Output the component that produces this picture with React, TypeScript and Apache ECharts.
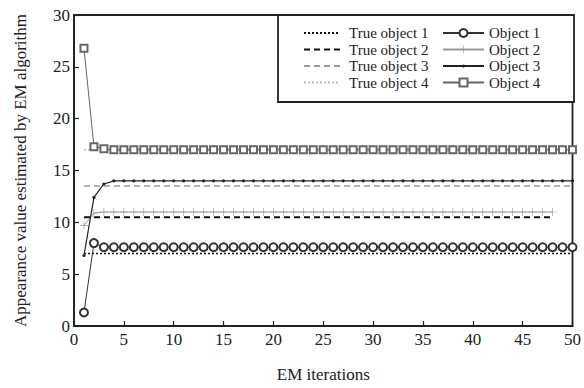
import React, { useEffect, useRef } from "react";
import * as echarts from "echarts";

// EM iteration index for each estimate
const iterations = [
  1, 2, 3, 4, 5, 6, 7, 8, 9, 10,
  11, 12, 13, 14, 15, 16, 17, 18, 19, 20,
  21, 22, 23, 24, 25, 26, 27, 28, 29, 30,
  31, 32, 33, 34, 35, 36, 37, 38, 39, 40,
  41, 42, 43, 44, 45, 46, 47, 48, 49, 50,
];

const object1 = [
  1.3, 8.0, 7.6, 7.6, 7.6, 7.6, 7.6, 7.6, 7.6, 7.6,
  7.6, 7.6, 7.6, 7.6, 7.6, 7.6, 7.6, 7.6, 7.6, 7.6,
  7.6, 7.6, 7.6, 7.6, 7.6, 7.6, 7.6, 7.6, 7.6, 7.6,
  7.6, 7.6, 7.6, 7.6, 7.6, 7.6, 7.6, 7.6, 7.6, 7.6,
  7.6, 7.6, 7.6, 7.6, 7.6, 7.6, 7.6, 7.6, 7.6, 7.6,
];
const object2 = [
  9.7, 10.9, 11.0, 11.0, 11.0, 11.0, 11.0, 11.0, 11.0, 11.0,
  11.0, 11.0, 11.0, 11.0, 11.0, 11.0, 11.0, 11.0, 11.0, 11.0,
  11.0, 11.0, 11.0, 11.0, 11.0, 11.0, 11.0, 11.0, 11.0, 11.0,
  11.0, 11.0, 11.0, 11.0, 11.0, 11.0, 11.0, 11.0, 11.0, 11.0,
  11.0, 11.0, 11.0, 11.0, 11.0, 11.0, 11.0, 11.0,
];
const object3 = [
  6.8, 12.4, 13.7, 14.0, 14.0, 14.0, 14.0, 14.0, 14.0, 14.0,
  14.0, 14.0, 14.0, 14.0, 14.0, 14.0, 14.0, 14.0, 14.0, 14.0,
  14.0, 14.0, 14.0, 14.0, 14.0, 14.0, 14.0, 14.0, 14.0, 14.0,
  14.0, 14.0, 14.0, 14.0, 14.0, 14.0, 14.0, 14.0, 14.0, 14.0,
  14.0, 14.0, 14.0, 14.0, 14.0, 14.0, 14.0, 14.0, 14.0, 14.0,
];
const object4 = [
  26.8, 17.3, 17.1, 17.0, 17.0, 17.0, 17.0, 17.0, 17.0, 17.0,
  17.0, 17.0, 17.0, 17.0, 17.0, 17.0, 17.0, 17.0, 17.0, 17.0,
  17.0, 17.0, 17.0, 17.0, 17.0, 17.0, 17.0, 17.0, 17.0, 17.0,
  17.0, 17.0, 17.0, 17.0, 17.0, 17.0, 17.0, 17.0, 17.0, 17.0,
  17.0, 17.0, 17.0, 17.0, 17.0, 17.0, 17.0, 17.0, 17.0, 17.0,
];

// True values: [value, first iteration, last iteration]
const trueValues = [7.0, 10.5, 13.5, 17.0];
const trueStart = [1, 1, 1, 1];
const trueEnd = [50, 48, 50, 50];

const trueNames = ["True object 1", "True object 2", "True object 3", "True object 4"];
const objectNames = ["Object 1", "Object 2", "Object 3", "Object 4"];

const yTicks = { min: 0, max: 30, interval: 5 };
const xTicks = { min: 0, max: 50, interval: 5 };

const FONT = "Liberation Serif";
const INK = "#222";

const NOSYMBOL = "path://M0,0L0,0M10,10L10,10";
const PLUS = "path://M0,0L0,0M10,10L10,10M4.6,0h0.8v10h-0.8zM0,4.6h10v0.8h-10z";
const DOT = "path://M0,0L0,0M10,10L10,10M3,5a2,2 0 1,0 4,0a2,2 0 1,0 -4,0z";

export default function App() {
  const ref = useRef<HTMLDivElement>(null);

  useEffect(() => {
    if (!ref.current) return;
    const chart = echarts.init(ref.current, undefined, { renderer: "svg" });

    const pairs = (vals: number[]) => vals.map((v, i) => [iterations[i], v]);

    const trueStyles = [
      { color: "#111", type: [2, 2], width: 1.6 },
      { color: "#111", type: [6, 4], width: 2 },
      { color: "#999", type: [6, 4], width: 1.6 },
      { color: "#bbb", type: [2, 2], width: 1.4 },
    ];

    const trueSeries = trueValues.map((v, i) => ({
      name: trueNames[i],
      type: "line",
      symbol: NOSYMBOL,
      showSymbol: false,
      data: [
        [trueStart[i], v],
        [trueEnd[i], v],
      ],
      lineStyle: trueStyles[i],
      itemStyle: { color: trueStyles[i].color },
      z: 2,
    }));

    const objSeries = [
      {
        name: objectNames[0],
        type: "line",
        data: pairs(object1),
        symbol: "emptyCircle",
        symbolSize: 8,
        lineStyle: { color: "#333", width: 1 },
        itemStyle: { color: "#333", borderWidth: 0.9 },
        z: 3,
      },
      {
        name: objectNames[1],
        type: "line",
        data: pairs(object2),
        symbol: PLUS,
        symbolSize: 8,
        lineStyle: { color: "#999", width: 1 },
        itemStyle: { color: "#999" },
        z: 3,
      },
      {
        name: objectNames[2],
        type: "line",
        data: pairs(object3),
        symbol: DOT,
        symbolSize: 8,
        lineStyle: { color: "#222", width: 1.2 },
        itemStyle: { color: "#222" },
        z: 3,
      },
      {
        name: objectNames[3],
        type: "line",
        data: pairs(object4),
        symbol: "emptyRect",
        symbolSize: 7,
        lineStyle: { color: "#666", width: 1 },
        itemStyle: { color: "#666", borderWidth: 0.9 },
        z: 3,
      },
    ];

    const legendText = { fontFamily: FONT, fontSize: 15, color: INK, lineHeight: 16 };

    chart.setOption({
      animation: false,
      backgroundColor: "#fff",
      grid: {
        left: 74,
        right: 10,
        top: 15,
        bottom: 62,
        show: true,
        borderColor: INK,
        borderWidth: 1.8,
        backgroundColor: "transparent",
      },
      legend: [
        {
          data: trueNames,
          orient: "vertical",
          left: 303,
          top: 25,
          itemWidth: 36,
          itemHeight: 10,
          itemGap: 0.5,
          padding: 0,
          textStyle: { ...legendText, padding: [0, 0, 0, 4] },
          selectedMode: false,
        },
        {
          data: objectNames,
          orient: "vertical",
          left: 442,
          top: 25,
          itemWidth: 41,
          itemHeight: 10,
          itemGap: 0.5,
          padding: 0,
          textStyle: legendText,
          selectedMode: false,
        },
      ],
      graphic: [
        {
          type: "rect",
          shape: { x: 278, y: 15, width: 296, height: 87 },
          style: { fill: "#fff", stroke: INK, lineWidth: 1.8 },
          z: 0,
          zlevel: 0,
        },
      ],
      xAxis: {
        type: "value",
        min: xTicks.min,
        max: xTicks.max,
        interval: xTicks.interval,
        name: "EM iterations",
        nameLocation: "middle",
        nameGap: 40,
        nameTextStyle: { fontFamily: FONT, fontSize: 17, color: INK },
        axisLine: { show: true, lineStyle: { color: INK, width: 1.8 } },
        axisTick: { show: true, inside: true, length: 5, lineStyle: { color: INK, width: 1.2 } },
        axisLabel: { fontFamily: FONT, fontSize: 17, color: INK, margin: 5 },
        splitLine: { show: false },
      },
      yAxis: {
        type: "value",
        min: yTicks.min,
        max: yTicks.max,
        interval: yTicks.interval,
        name: "Appearance value estimated by EM algorithm",
        nameLocation: "middle",
        nameGap: 45,
        nameTextStyle: { fontFamily: FONT, fontSize: 17, color: INK },
        axisLine: { show: true, lineStyle: { color: INK, width: 1.8 } },
        axisTick: { show: true, inside: true, length: 5, lineStyle: { color: INK, width: 1.2 } },
        axisLabel: { fontFamily: FONT, fontSize: 17, color: INK, margin: 4 },
        splitLine: { show: false },
      },
      series: [...trueSeries, ...objSeries],
    });

    return () => chart.dispose();
  }, []);

  return (
    <div
      ref={ref}
      style={{ position: "fixed", left: 0, top: 0, width: 584, height: 388, background: "#fff" }}
    />
  );
}
